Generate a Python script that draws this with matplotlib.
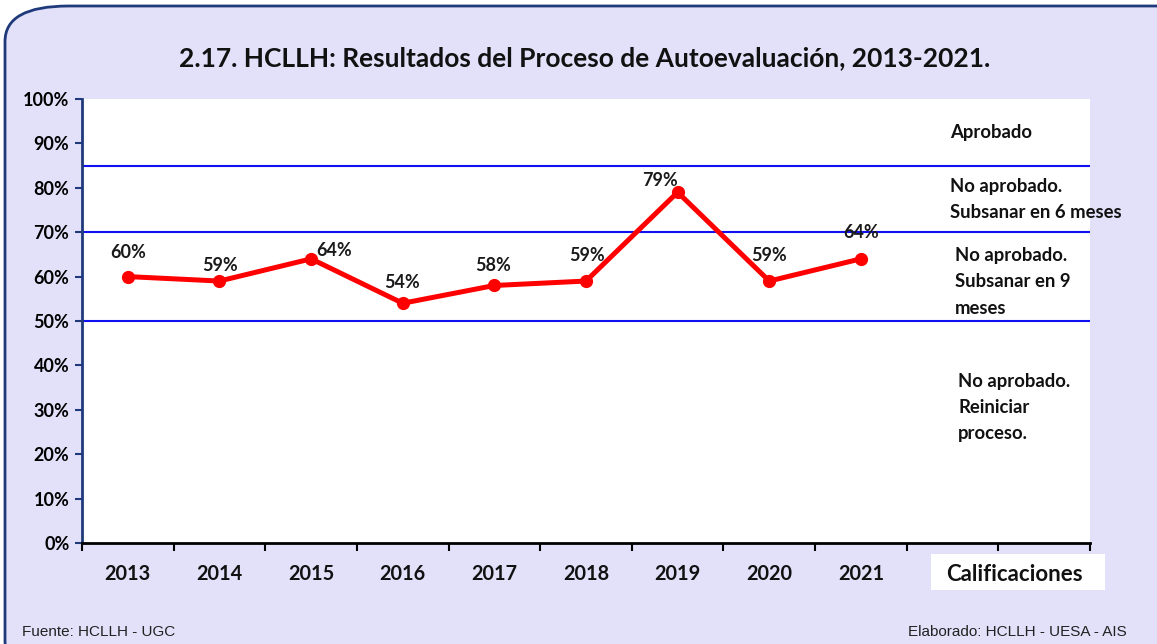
#!/usr/bin/env python3
# -*- coding: utf-8 -*-
import matplotlib
matplotlib.use('Agg')
import matplotlib.pyplot as plt
from matplotlib.patches import FancyBboxPatch, Rectangle

years = ['2013', '2014', '2015', '2016', '2017', '2018', '2019', '2020', '2021']
values = [60, 59, 64, 54, 58, 59, 79, 59, 64]
thresholds = [85, 70, 50]
zones = ['Aprobado',
         'No aprobado.\nSubsanar en 6 meses',
         'No aprobado.\nSubsanar en 9\nmeses',
         'No aprobado.\nReiniciar\nproceso.']
yticks = list(range(0, 101, 10))

# label offsets in pixels (dx, dy) from each point
label_off = [(0, 24), (1, 16), (23, 8), (-1, 21), (-1, 20), (1, 26), (-18, 12), (0, 26), (0, 26)]
# zone text anchors (x in data units, y in %)
zone_pos = [(8.97, 92.5), (8.97, 77.4), (9.03, 58.8), (9.06, 30.6)]

BG = '#E3E0FA'
NAVY = '#1F3A7A'
W, H = 1157, 644

plt.rcParams['font.family'] = ['Lato', 'DejaVu Sans']

fig = plt.figure(figsize=(W / 100, H / 100), dpi=100)
fig.patch.set_facecolor('white')
frame = FancyBboxPatch((5 / W, -0.05), 1.1, 1 - 6 / H + 0.05,
                       boxstyle='round,pad=0,rounding_size=0.055',
                       transform=fig.transFigure, facecolor=BG,
                       edgecolor=NAVY, linewidth=2, zorder=-10)
fig.patches.append(frame)
# white box behind the "Calificaciones" label
fig.patches.append(Rectangle((931 / W, 1 - 590 / H), 174 / W, 36 / H,
                             transform=fig.transFigure, facecolor='white',
                             edgecolor='none', zorder=-5))

ax = fig.add_axes([82 / W, 1 - 543 / H, (1090 - 82) / W, (543 - 99) / H])
ax.set_facecolor('white')

x = list(range(len(years)))
ax.plot(x, values, color='#FF0000', lw=3.6, marker='o', ms=8.5, zorder=3,
        solid_capstyle='round')
for xi, v, (dx, dy) in zip(x, values, label_off):
    ax.annotate(f'{v}%', (xi, v), xytext=(dx, dy), textcoords='offset pixels',
                ha='center', va='center', fontsize=13, fontweight='bold',
                color='#1a1a1a', zorder=4)

for t in thresholds:
    ax.axhline(t, color='#1010F0', lw=1.5, zorder=2)

for txt, (zx, zy) in zip(zones, zone_pos):
    ax.text(zx, zy, txt, ha='left', va='center', fontsize=13.3, fontweight='bold',
            linespacing=1.65, color='#111111', clip_on=False, zorder=4)

ax.set_xlim(-0.5, 10.5)
ax.set_ylim(0, 100)
ax.set_xticks([i - 0.5 for i in range(12)])
ax.set_xticklabels([])
ax.set_yticks(yticks)
ax.set_yticklabels([f'{t}%' for t in yticks], fontsize=13, fontweight='bold')
ax.tick_params(axis='y', length=5, width=1.5, color=NAVY, pad=4)
ax.tick_params(axis='x', length=6, width=1.5, color='black')
for xi, yr in zip(x, years):
    ax.text(xi, -7.0, yr, ha='center', va='center', fontsize=14.3, fontweight='bold',
            color='#111111', transform=ax.transData, clip_on=False)
ax.text(9.68, -7.0, 'Calificaciones', ha='center', va='center', fontsize=16,
        fontweight='bold', color='#111111', clip_on=False)

for s in ['top', 'right']:
    ax.spines[s].set_visible(False)
ax.spines['left'].set_color(NAVY)
ax.spines['left'].set_linewidth(2)
ax.spines['bottom'].set_color('black')
ax.spines['bottom'].set_linewidth(2)

fig.text(585 / W, 1 - 58 / H,
         '2.17. HCLLH: Resultados del Proceso de Autoevaluación, 2013-2021.',
         ha='center', va='center', fontsize=19, fontweight='bold', color='#111111')
fig.text(22 / W, 1 - 632 / H, 'Fuente: HCLLH - UGC', ha='left', va='center',
         fontsize=11, color='#222222', family=['Liberation Sans'])
fig.text(1127 / W, 1 - 632 / H, 'Elaborado: HCLLH - UESA - AIS', ha='right',
         va='center', fontsize=11, color='#222222', family=['Liberation Sans'])

fig.savefig('out.png', dpi=100, facecolor=fig.get_facecolor())
